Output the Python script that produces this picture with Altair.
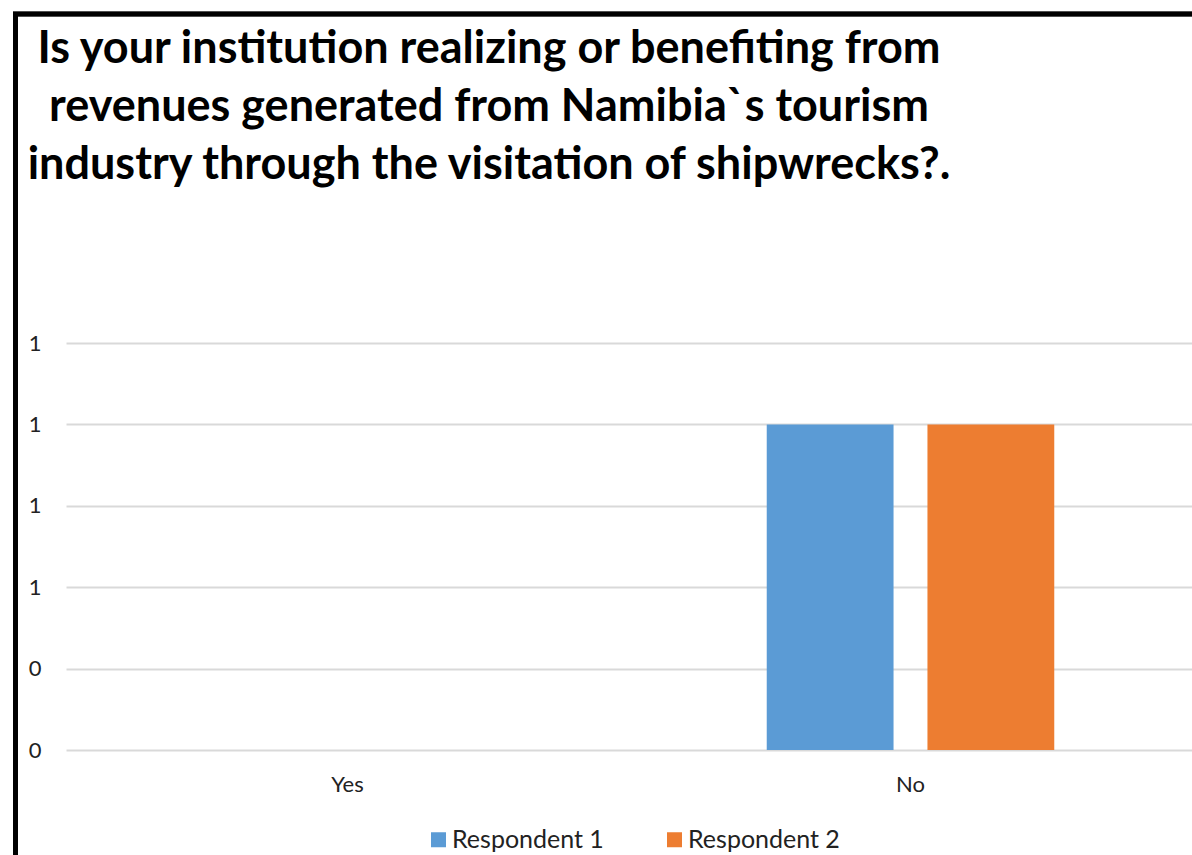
import altair as alt
import pandas as pd

# Survey answers per respondent
answers = ["Yes", "No"]
respondents = ["Respondent 1", "Respondent 2"]
respondent_1 = [0, 1]
respondent_2 = [0, 1]

y_ticks = [0, 0.25, 0.5, 0.75, 1, 1.25]
series_colors = ["#5B9BD5", "#ED7D31"]

title_lines = [
    "Is your institution realizing or benefiting from",
    "revenues generated from Namibia`s tourism",
    "industry through the visitation of shipwrecks?.",
]

rows = []
for i, a in enumerate(answers):
    rows.append({"answer": a, "respondent": respondents[0], "count": respondent_1[i]})
    rows.append({"answer": a, "respondent": respondents[1], "count": respondent_2[i]})
df = pd.DataFrame(rows)

FONT = "Lato"
W, H = 1126, 407

bars = alt.Chart(df).mark_bar().encode(
    x=alt.X(
        "answer:N",
        sort=answers,
        scale=alt.Scale(paddingInner=0, paddingOuter=0),
        axis=alt.Axis(title=None, labelAngle=0, domain=False, ticks=False,
                      grid=False, labelPadding=24, labelFontSize=22,
                      labelColor="#222222", labelFont=FONT),
    ),
    xOffset=alt.XOffset("respondent:N", sort=respondents,
                        scale=alt.Scale(paddingInner=0.211, paddingOuter=0.857)),
    y=alt.Y(
        "count:Q",
        scale=alt.Scale(domain=[0, 1.25], nice=False),
        axis=alt.Axis(title=None, values=y_ticks, format=".0f", domain=False,
                      ticks=False, gridColor="#D9D9D9", gridWidth=2,
                      labelPadding=25, labelFontSize=22, labelColor="#222222",
                      labelFont=FONT),
    ),
    color=alt.Color(
        "respondent:N",
        sort=respondents,
        scale=alt.Scale(domain=respondents, range=series_colors),
        legend=alt.Legend(title=None, orient="none", legendX=360, legendY=484,
                          direction="horizontal", symbolType="square",
                          symbolSize=225, symbolStrokeWidth=0, labelFontSize=25,
                          labelFont=FONT, labelColor="#222222", labelOffset=1,
                          columnPadding=58, padding=0),
    ),
)

# Outer frame of the chart area (left and top edges)
frame_left = alt.Chart(df).mark_rule(color="black", strokeWidth=4.5).encode(
    x=alt.value(-50.5), y=alt.value(-331), y2=alt.value(512)
)
frame_top = alt.Chart(df).mark_rule(color="black", strokeWidth=4.5).encode(
    x=alt.value(-53), x2=alt.value(W + 10), y=alt.value(-329)
)

chart = alt.layer(bars, frame_left, frame_top).properties(
    width=W,
    height=H,
    view=alt.ViewBackground(stroke="transparent", strokeWidth=0),
    padding={"left": 66, "top": 343, "right": 0, "bottom": 105},
    autosize=alt.AutoSizeParams(type="none"),
    title=alt.TitleParams(
        text=title_lines,
        anchor="middle",
        frame="group",
        dx=-140,
        offset=-178,
        font=FONT,
        fontSize=45,
        fontWeight="bold",
        color="black",
        lineHeight=58,
    ),
).configure_view(stroke="transparent", strokeWidth=0).configure_axis(
    domain=False
).configure(background="white")

chart.save("out.html", embed_options={"renderer": "svg", "actions": False})
